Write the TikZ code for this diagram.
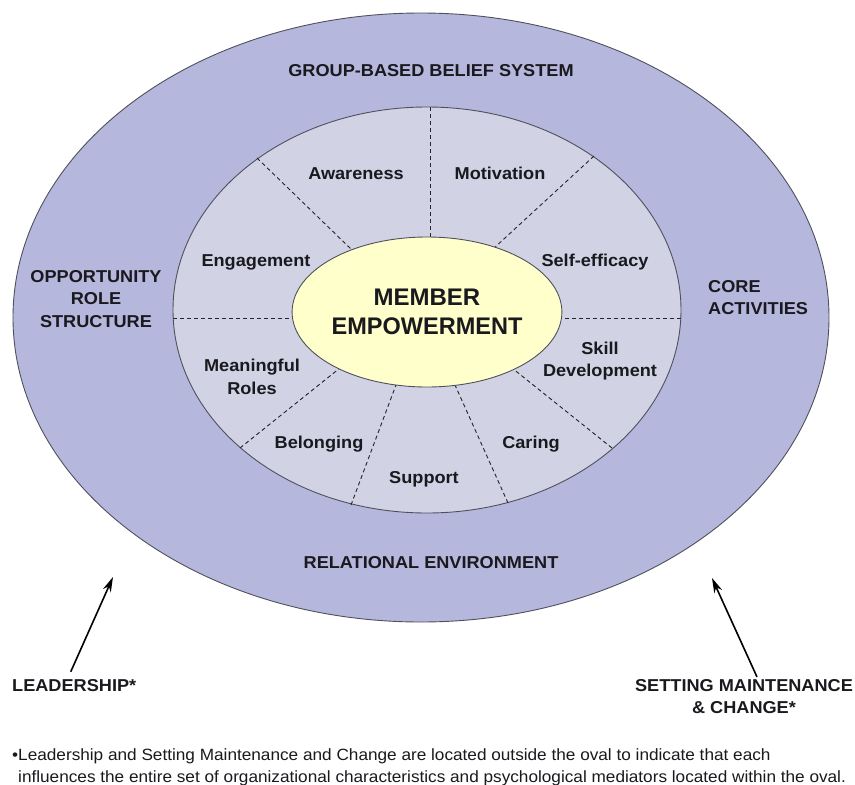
\documentclass[tikz,border=0pt]{standalone}
\usepackage{fontspec}
\setmainfont{Liberation Sans}
\usetikzlibrary{arrows.meta,shapes.geometric}
\definecolor{outerfill}{RGB}{181,183,221}
\definecolor{midfill}{RGB}{209,210,228}
\definecolor{corefill}{RGB}{255,255,204}
\definecolor{edgecol}{RGB}{80,80,92}
\definecolor{txt}{RGB}{25,25,30}
\newcommand\hstr[1]{\scalebox{1.055}[1]{#1}}
\begin{document}
\begin{tikzpicture}[x=1pt,y=-1pt,
  ring/.style={ellipse, draw=edgecol, line width=0.9pt, inner sep=0pt},
  lbl/.style={font=\bfseries\fontsize{17.2}{22.5}\selectfont, align=center, inner sep=0pt, text=txt},
  sect/.style={dash pattern=on 4pt off 3pt, line width=0.9pt, draw=black!85},
  arr/.style={-{Stealth[length=15pt,width=8.5pt]}, line width=1.6pt},
  note/.style={font=\fontsize{16.3}{22}\selectfont, inner sep=0pt, anchor=base west, text=txt},
]
\useasboundingbox (0,0) rectangle (855,785);
\node[ring, fill=outerfill, minimum width=816pt, minimum height=609pt] (outer) at (421,317.5) {};
\node[ring, fill=midfill, minimum width=508pt, minimum height=406pt] (mid) at (427,310) {};
% sector dividers
\coordinate (a1) at (430,107);  \coordinate (b1) at (430,245);
\coordinate (a2) at (257,158);  \coordinate (b2) at (352,250);
\coordinate (a3) at (594,156);  \coordinate (b3) at (493,249);
\coordinate (a4) at (173,318);  \coordinate (b4) at (305,318);
\coordinate (a5) at (681,318);  \coordinate (b5) at (550,318);
\coordinate (a6) at (240,448);  \coordinate (b6) at (340,368);
\coordinate (a7) at (351,505);  \coordinate (b7) at (396,385);
\coordinate (a8) at (508,503);  \coordinate (b8) at (455,385);
\coordinate (a9) at (612,448);  \coordinate (b9) at (512,368);
\foreach \i in {1,...,9} \draw[sect] (a\i) -- (b\i);
\node[ring, fill=corefill, minimum width=256pt, minimum height=150pt,
      font=\bfseries\fontsize{24}{29}\selectfont, align=center, text=txt] (core) at (427,312)
      {MEMBER\\\scalebox{0.98}[1]{EMPOWERMENT}};
% outer labels
\node[lbl, anchor=base] (grp) at (431,76) {\hstr{GROUP-BASED BELIEF SYSTEM}};
\node[lbl, anchor=base] (rel) at (431,568) {\hstr{RELATIONAL ENVIRONMENT}};
\node[lbl] (ors) at (96,299) {\hstr{OPPORTUNITY}\\\hstr{ROLE}\\\hstr{STRUCTURE}};
\node[lbl, align=left, anchor=west] (cact) at (708,297.5) {\hstr{CORE}\\\hstr{ACTIVITIES}};
% inner labels
\node[lbl, anchor=base] (aw) at (356,179) {\hstr{Awareness}};
\node[lbl, anchor=base] (mo) at (500,179) {\hstr{Motivation}};
\node[lbl, anchor=base] (en) at (256,266) {\hstr{Engagement}};
\node[lbl, anchor=base] (se) at (595,266) {\hstr{Self-efficacy}};
\node[lbl] (sd) at (600,361) {\hstr{Skill}\\\hstr{Development}};
\node[lbl] (mr) at (252,377) {\hstr{Meaningful}\\\hstr{Roles}};
\node[lbl, anchor=base] (be) at (319,448) {\hstr{Belonging}};
\node[lbl, anchor=base] (su) at (424,483) {\hstr{Support}};
\node[lbl, anchor=base] (ca) at (531,448) {\hstr{Caring}};
% outside influences
\node[lbl, anchor=base west] (lead) at (12,691) {\hstr{LEADERSHIP*}};
\node[lbl] (setm) at (744,696.5) {\hstr{SETTING MAINTENANCE}\\\hstr{\& CHANGE*}};
\coordinate (ltip) at (113,577);
\coordinate (rtip) at (712,578);
\draw[arr] ([xshift=-3.5pt,yshift=7pt]lead.north) -- (ltip);
\draw[arr] ([xshift=13pt,yshift=2pt]setm.north) -- (rtip);
% footnote
\node[note] (fn1) at (12,760) {\hstr{•Leadership and Setting Maintenance and Change are located outside the oval to indicate that each}};
\node[note] (fn2) at (18,782) {\hstr{influences the entire set of organizational characteristics and psychological mediators located within the oval.}};
\end{tikzpicture}
\end{document}
